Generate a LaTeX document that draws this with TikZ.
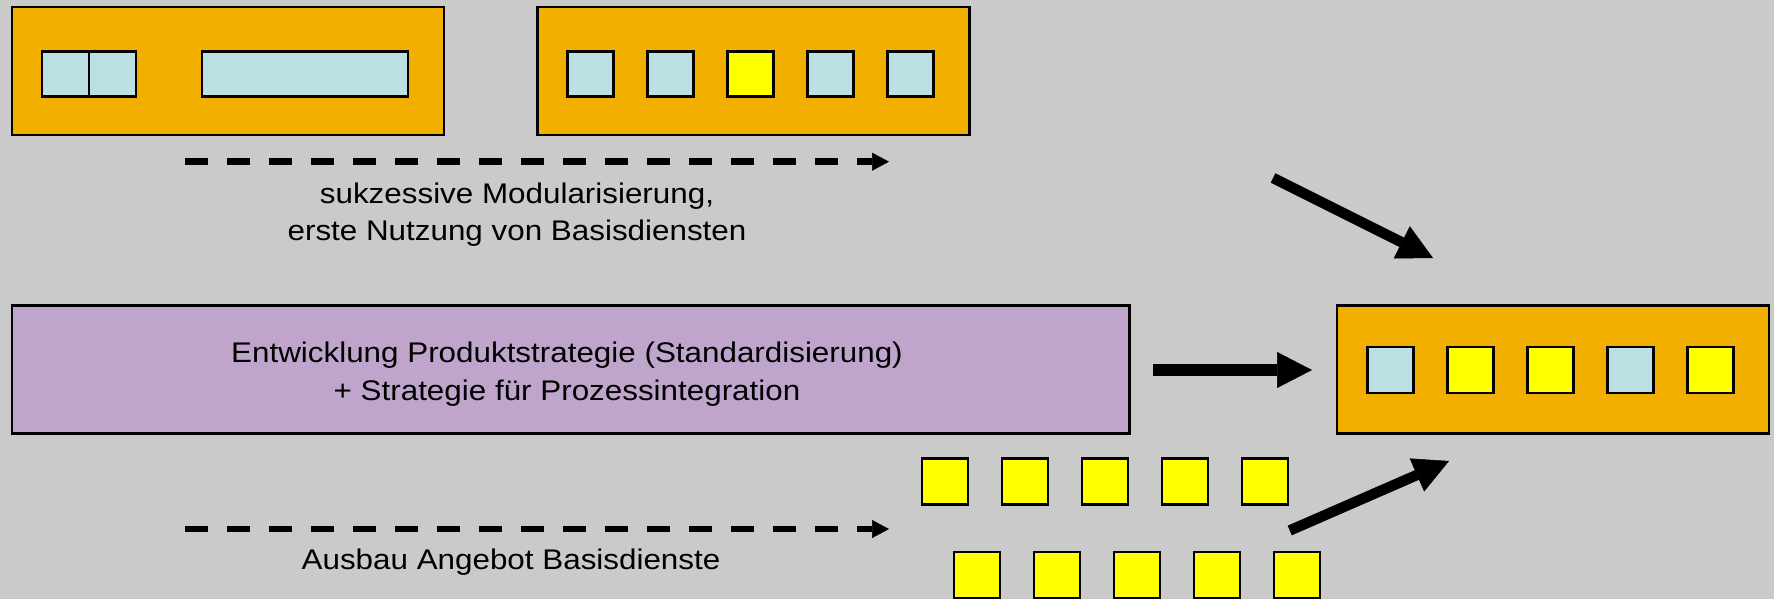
\documentclass[tikz,border=0pt]{standalone}
\usepackage{fontspec}
\setmainfont{Liberation Sans}[FakeStretch=1.105]
\usetikzlibrary{arrows.meta}
\definecolor{bgc}{RGB}{202,202,202}
\definecolor{orangec}{RGB}{242,175,0}
\definecolor{lbluec}{RGB}{187,224,227}
\definecolor{yelc}{RGB}{255,255,0}
\definecolor{purpc}{RGB}{191,165,204}
\tikzset{
  bigbox/.style={draw=black, line width=2.6pt, minimum width=432pt, minimum height=128pt, inner sep=0pt, outer sep=0pt},
  orangebox/.style={bigbox, fill=orangec},
  sq/.style={draw=black, line width=2.6pt, minimum width=46pt, minimum height=46pt, inner sep=0pt, outer sep=0pt},
  bsq/.style={sq, fill=lbluec},
  ysq/.style={sq, fill=yelc},
  txt/.style={font=\fontsize{28.4}{37}\selectfont, inner sep=0pt, anchor=base},
  fatarrow/.style={line width=10.5pt, -{Triangle[length=35pt,width=36pt,line width=0.5pt]}},
  dasharrow/.style={line width=6.5pt, dash pattern=on 23pt off 19pt, -{Triangle[length=17pt,width=18pt,line width=0.5pt]}}
}
\begin{document}
\begin{tikzpicture}[x=1pt,y=-1pt]
\fill[bgc] (0,0) rectangle (1774,599);
\useasboundingbox (0,0) rectangle (1774,599);

% top-left box
\node[orangebox] (b1) at (228,71) {};
\node[bsq, minimum width=47pt, minimum height=45.5pt] (b1a) at (65.5,74) {};
\node[bsq, minimum width=47pt, minimum height=45.5pt] (b1b) at (112.5,74) {};
\node[bsq, minimum width=206pt, minimum height=45.5pt] (b1c) at (305,74) {};

% top-middle box
\node[orangebox] (b2) at (753.2,71) {};
\foreach \i/\s in {0/bsq,1/bsq,2/ysq,3/bsq,4/bsq}
  \node[\s, minimum height=45.5pt] (b2s\i) at ({590.35+80*\i},74) {};

% purple box
\node[bigbox, fill=purpc, minimum width=1117.3pt] (pb) at (570.7,369.5) {};
\node[txt] (pt1) at (567,362.7) {Entwicklung Produktstrategie (Standardisierung)};
\node[txt] (pt2) at (567,400.7) {+ Strategie für Prozessintegration};

% right box
\node[orangebox] (rb) at (1553,369.7) {};
\foreach \i/\s in {0/bsq,1/ysq,2/ysq,3/bsq,4/ysq}
  \node[\s] (rbs\i) at ({1390.35+80*\i},370) {};

% yellow squares
\foreach \i in {0,...,4}
  \node[ysq] (y1\i) at ({945+80*\i},481.7) {};
\foreach \i in {0,...,4}
  \node[ysq] (y2\i) at ({977+80*\i},575) {};

% dashed arrows and labels
\coordinate (d1s) at (185,161.7);
\coordinate (d1e) at (889,161.7);
\draw[dasharrow] (d1s) -- (d1e);
\node[txt] (t1a) at (517,203) {sukzessive Modularisierung,};
\node[txt] (t1b) at (517,240) {erste Nutzung von Basisdiensten};

\coordinate (d2s) at (185,529);
\coordinate (d2e) at (889,529);
\draw[dasharrow] (d2s) -- (d2e);
\node[txt] (t3) at (511,569) {Ausbau Angebot Basisdienste};

% thick arrows
\coordinate (a1s) at (1273,178);
\coordinate (a1e) at (1433,258);
\draw[fatarrow] (a1s) -- (a1e);

\draw[fatarrow, line width=11.3pt] ([xshift=24pt]pb.east |- rbs0.center) -- ([xshift=-25pt]rb.west |- rbs0.center);

\coordinate (a3s) at (1289.7,530.5);
\coordinate (a3e) at (1449,461);
\draw[fatarrow] (a3s) -- (a3e);
\end{tikzpicture}
\end{document}
